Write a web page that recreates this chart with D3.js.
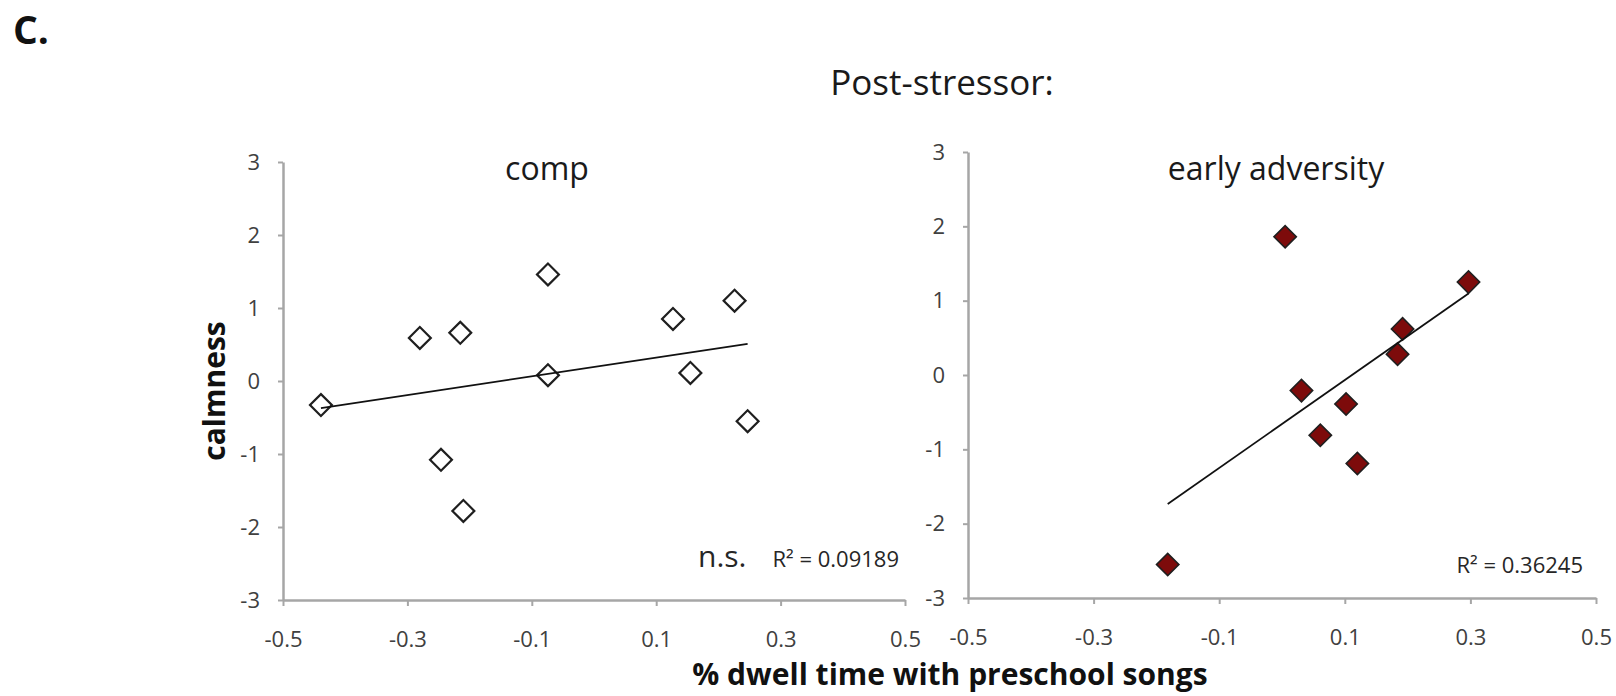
<!DOCTYPE html>
<html>
<head>
<meta charset="utf-8">
<script src="https://cdn.jsdelivr.net/npm/d3@7"></script>
<style>
  body { margin: 0; background: #ffffff; }
  text { font-family: "Open Sans", "Noto Sans", sans-serif; }
</style>
</head>
<body>
<svg id="chart" width="1616" height="696"></svg>
<script>
// ---- data ----
const xTicks = [-0.5, -0.3, -0.1, 0.1, 0.3, 0.5];
const yTicks = [-3, -2, -1, 0, 1, 2, 3];

// comparison group: dwell time vs calmness
const compDwell    = [-0.439, -0.280, -0.215, -0.246, -0.210, -0.074, -0.074, 0.127, 0.155, 0.226, 0.247];
const compCalmness = [-0.33,   0.59,   0.66,  -1.08,  -1.78,   1.46,   0.08,  0.85,  0.11,  1.10, -0.55];

// early adversity group
const advDwell    = [0.005, 0.192, 0.184, 0.031, 0.102, 0.061, 0.297, 0.120, -0.182];
const advCalmness = [1.86,  0.62,  0.28, -0.21, -0.39, -0.81,  1.25, -1.19, -2.55];

const panelTitles = ["comp", "early adversity"];
const rSquaredLabels = ["R\u00B2 = 0.09189", "R\u00B2 = 0.36245"];
const significanceLabels = ["n.s.", ""];

// ---- helpers ----
function linearFit(xs, ys) {
  const mx = d3.mean(xs), my = d3.mean(ys);
  let sxy = 0, sxx = 0;
  xs.forEach((x, i) => { sxy += (x - mx) * (ys[i] - my); sxx += (x - mx) * (x - mx); });
  const slope = sxy / sxx;
  return { slope, intercept: my - slope * mx };
}

// plain hyphen-minus for negative tick values
const hyphen = f => v => f(v).replace("\u2212", "-");
const fmtY = hyphen(d3.format("d"));
const fmtX = hyphen(d3.format(".1f"));

const svg = d3.select("#chart");
const axisColor = "#a6a6a6";

const panels = [
  { xs: compDwell, ys: compCalmness, left: 283, right: 905, top: 162, bottom: 600,
    titleX: 547, filled: false, nsX: 698, rX: 899, rY: 567 },
  { xs: advDwell, ys: advCalmness, left: 968, right: 1596, top: 152, bottom: 598,
    titleX: 1276, filled: true, nsX: 0, rX: 1583, rY: 573 }
];

panels.forEach((p, idx) => {
  const x = d3.scaleLinear().domain([-0.5, 0.5]).range([p.left, p.right]);
  const y = d3.scaleLinear().domain([-3, 3]).range([p.bottom, p.top]);
  const g = svg.append("g");

  // y axis
  const yAxis = g.append("g")
    .attr("transform", `translate(${p.left},0)`)
    .call(d3.axisLeft(y).tickValues(yTicks).tickSize(5).tickSizeOuter(0).tickFormat(fmtY));
  yAxis.selectAll("text")
    .attr("x", -23)
    .attr("fill", "#404040")
    .style("font-size", "22px");

  // x axis
  const xAxis = g.append("g")
    .attr("transform", `translate(0,${p.bottom})`)
    .call(d3.axisBottom(x).tickValues(xTicks).tickSize(6).tickSizeOuter(0).tickFormat(fmtX));
  xAxis.selectAll("text")
    .attr("y", 47)
    .attr("dy", null)
    .attr("fill", "#404040")
    .style("font-size", "22px");

  [yAxis, xAxis].forEach(a => {
    a.select(".domain").attr("stroke", axisColor).attr("stroke-width", 2.5);
    a.selectAll(".tick line").attr("stroke", axisColor).attr("stroke-width", 2);
  });

  // panel title
  g.append("text")
    .attr("x", p.titleX).attr("y", 180)
    .attr("text-anchor", "middle")
    .attr("fill", "#1a1a1a")
    .style("font-size", "32px")
    .text(panelTitles[idx]);

  // markers (rotated squares)
  const marker = d3.symbol().type(d3.symbolSquare).size(p.filled ? 250 : 240);
  g.append("g").selectAll("path")
    .data(p.xs.map((d, i) => [d, p.ys[i]]))
    .join("path")
    .attr("d", marker)
    .attr("transform", d => `translate(${x(d[0])},${y(d[1])}) rotate(45)`)
    .attr("fill", p.filled ? "#7d0b0b" : "#ffffff")
    .attr("stroke", "#1f1f1f")
    .attr("stroke-width", p.filled ? 1.6 : 2.2);

  // linear trend line across the data range
  const fit = linearFit(p.xs, p.ys);
  const [x0, x1] = d3.extent(p.xs);
  g.append("line")
    .attr("x1", x(x0)).attr("y1", y(fit.intercept + fit.slope * x0))
    .attr("x2", x(x1)).attr("y2", y(fit.intercept + fit.slope * x1))
    .attr("stroke", "#111")
    .attr("stroke-width", 1.8);

  // fit annotations
  if (significanceLabels[idx]) {
    g.append("text")
      .attr("x", p.nsX).attr("y", p.rY)
      .attr("fill", "#262626")
      .style("font-size", "30px")
      .text(significanceLabels[idx]);
  }
  g.append("text")
    .attr("x", p.rX).attr("y", p.rY)
    .attr("text-anchor", "end")
    .attr("fill", "#262626")
    .style("font-size", "22px")
    .text(rSquaredLabels[idx]);
});

// figure labels
svg.append("text")
  .attr("x", 13).attr("y", 44)
  .attr("fill", "#111")
  .style("font-size", "39px").style("font-weight", "bold")
  .text("C.");

svg.append("text")
  .attr("x", 942).attr("y", 95)
  .attr("text-anchor", "middle")
  .attr("fill", "#1a1a1a")
  .style("font-size", "35px")
  .text("Post-stressor:");

svg.append("text")
  .attr("transform", "translate(225,391) rotate(-90)")
  .attr("text-anchor", "middle")
  .attr("fill", "#111")
  .style("font-size", "30px").style("font-weight", "bold")
  .text("calmness");

svg.append("text")
  .attr("x", 950).attr("y", 685)
  .attr("text-anchor", "middle")
  .attr("fill", "#111")
  .style("font-size", "30px").style("font-weight", "bold")
  .text("% dwell time with preschool songs");
</script>
</body>
</html>
